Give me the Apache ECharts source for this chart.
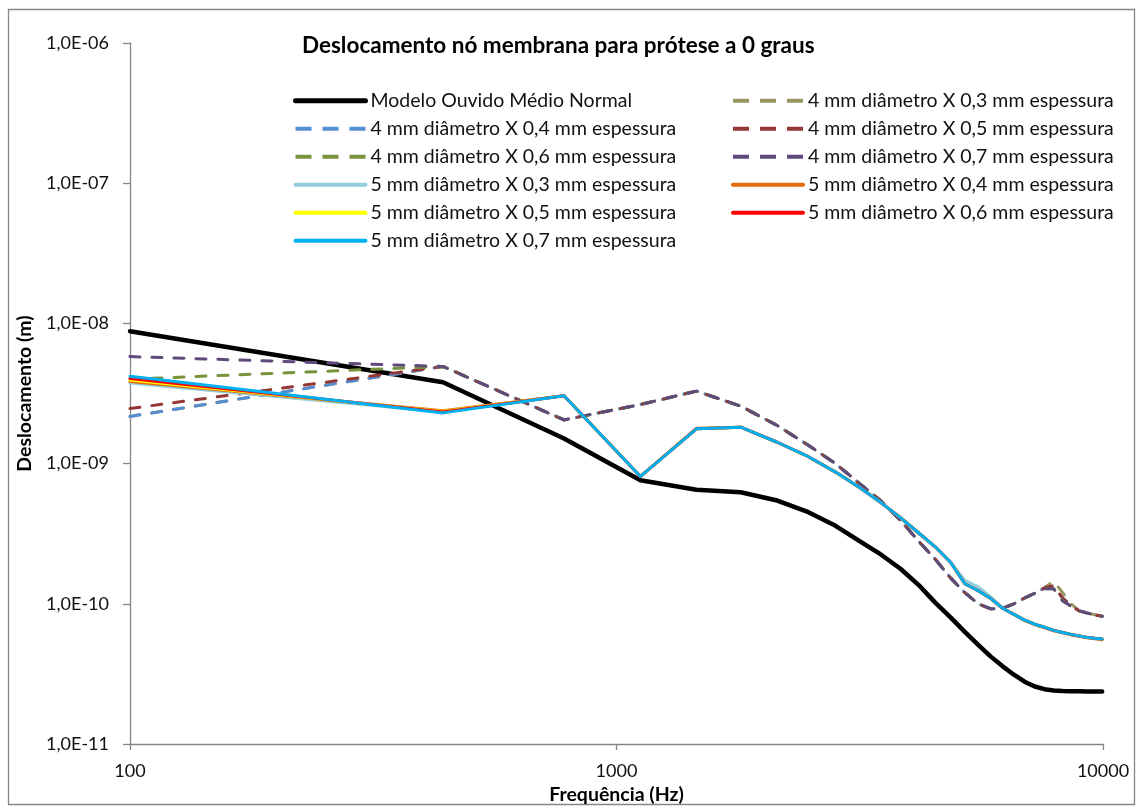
<!DOCTYPE html>
<html>
<head>
<meta charset="utf-8">
<script src="https://cdn.jsdelivr.net/npm/echarts@6/dist/echarts.min.js"></script>
<style>
  html, body { margin: 0; padding: 0; background: #ffffff; }
  #chart { width: 1143px; height: 810px; }
</style>
</head>
<body>
<div id="chart"></div>
<script>
// Frequências simuladas (Hz)
const freqs = [100, 440, 780, 1120, 1460, 1800, 2140, 2480, 2820, 3160,
               3500, 3840, 4180, 4520, 4860, 5200, 5540, 5880, 6220, 6560,
               6900, 7240, 7580, 7920, 8260, 8600, 8940, 9280, 9620, 9960];

// Deslocamento (m) do nó da membrana
const normal = [8.8e-9, 3.8e-9, 1.51e-9, 7.6e-10, 6.5e-10, 6.25e-10, 5.45e-10, 4.5e-10, 3.6e-10, 2.8e-10,
                2.24e-10, 1.77e-10, 1.36e-10, 1.02e-10, 8.0e-11, 6.3e-11, 5.1e-11, 4.2e-11, 3.58e-11, 3.12e-11,
                2.78e-11, 2.57e-11, 2.46e-11, 2.41e-11, 2.39e-11, 2.38e-11, 2.38e-11, 2.37e-11, 2.37e-11, 2.37e-11];

const d4e03 = [2.17e-9, 4.93e-9, 2.05e-9, 2.64e-9, 3.29e-9, 2.57e-9, 1.87e-9, 1.35e-9, 1.0e-9, 7.2e-10,
               5.4e-10, 3.92e-10, 2.79e-10, 2.08e-10, 1.53e-10, 1.2e-10, 1.0e-10, 9.2e-11, 9.3e-11, 1.0e-10,
               1.1e-10, 1.19e-10, 1.3e-10, 1.45e-10, 1.2e-10, 1.0e-10, 8.9e-11, 8.6e-11, 8.35e-11, 8.15e-11];
const d4e04 = [2.17e-9, 4.93e-9, 2.05e-9, 2.64e-9, 3.29e-9, 2.57e-9, 1.87e-9, 1.35e-9, 1.0e-9, 7.2e-10,
               5.4e-10, 3.92e-10, 2.79e-10, 2.08e-10, 1.53e-10, 1.2e-10, 1.0e-10, 9.2e-11, 9.3e-11, 1.0e-10,
               1.1e-10, 1.19e-10, 1.29e-10, 1.32e-10, 1.1e-10, 9.7e-11, 8.9e-11, 8.6e-11, 8.35e-11, 8.15e-11];
const d4e05 = [2.47e-9, 4.93e-9, 2.05e-9, 2.64e-9, 3.29e-9, 2.57e-9, 1.87e-9, 1.35e-9, 1.0e-9, 7.2e-10,
               5.4e-10, 3.92e-10, 2.79e-10, 2.08e-10, 1.53e-10, 1.2e-10, 1.0e-10, 9.2e-11, 9.3e-11, 1.0e-10,
               1.1e-10, 1.19e-10, 1.3e-10, 1.35e-10, 1.1e-10, 9.7e-11, 8.9e-11, 8.6e-11, 8.35e-11, 8.15e-11];
const d4e06 = [4.0e-9, 4.93e-9, 2.05e-9, 2.64e-9, 3.29e-9, 2.57e-9, 1.87e-9, 1.35e-9, 1.0e-9, 7.2e-10,
               5.4e-10, 3.92e-10, 2.79e-10, 2.08e-10, 1.53e-10, 1.2e-10, 1.0e-10, 9.2e-11, 9.3e-11, 1.0e-10,
               1.1e-10, 1.19e-10, 1.28e-10, 1.28e-10, 1.05e-10, 9.6e-11, 8.9e-11, 8.6e-11, 8.35e-11, 8.15e-11];
const d4e07 = [5.8e-9, 4.93e-9, 2.05e-9, 2.64e-9, 3.29e-9, 2.57e-9, 1.87e-9, 1.35e-9, 1.0e-9, 7.2e-10,
               5.4e-10, 3.92e-10, 2.79e-10, 2.08e-10, 1.53e-10, 1.2e-10, 1.0e-10, 9.2e-11, 9.3e-11, 1.0e-10,
               1.1e-10, 1.19e-10, 1.28e-10, 1.28e-10, 1.05e-10, 9.6e-11, 8.9e-11, 8.6e-11, 8.35e-11, 8.15e-11];

const d5e03 = [3.75e-9, 2.33e-9, 3.05e-9, 8.1e-10, 1.77e-9, 1.82e-9, 1.42e-9, 1.12e-9, 8.7e-10, 6.75e-10,
               5.25e-10, 4.1e-10, 3.2e-10, 2.55e-10, 1.98e-10, 1.47e-10, 1.32e-10, 1.12e-10, 9.3e-11, 8.4e-11,
               7.65e-11, 7.15e-11, 6.8e-11, 6.46e-11, 6.24e-11, 6.05e-11, 5.9e-11, 5.76e-11, 5.67e-11, 5.6e-11];
const d5e04 = [3.85e-9, 2.38e-9, 3.05e-9, 8.1e-10, 1.79e-9, 1.82e-9, 1.42e-9, 1.12e-9, 8.7e-10, 6.75e-10,
               5.25e-10, 4.1e-10, 3.2e-10, 2.55e-10, 1.98e-10, 1.39e-10, 1.24e-10, 1.09e-10, 9.3e-11, 8.4e-11,
               7.6e-11, 7.1e-11, 6.75e-11, 6.42e-11, 6.2e-11, 6.0e-11, 5.86e-11, 5.72e-11, 5.63e-11, 5.55e-11];
const d5e05 = [3.95e-9, 2.35e-9, 3.05e-9, 8.1e-10, 1.77e-9, 1.82e-9, 1.42e-9, 1.12e-9, 8.7e-10, 6.75e-10,
               5.25e-10, 4.1e-10, 3.2e-10, 2.55e-10, 1.98e-10, 1.39e-10, 1.24e-10, 1.09e-10, 9.3e-11, 8.4e-11,
               7.65e-11, 7.15e-11, 6.8e-11, 6.46e-11, 6.24e-11, 6.05e-11, 5.9e-11, 5.76e-11, 5.67e-11, 5.6e-11];
const d5e06 = [4.05e-9, 2.33e-9, 3.05e-9, 8.1e-10, 1.77e-9, 1.82e-9, 1.42e-9, 1.12e-9, 8.7e-10, 6.75e-10,
               5.25e-10, 4.1e-10, 3.2e-10, 2.55e-10, 1.98e-10, 1.39e-10, 1.24e-10, 1.09e-10, 9.3e-11, 8.4e-11,
               7.65e-11, 7.15e-11, 6.8e-11, 6.46e-11, 6.24e-11, 6.05e-11, 5.9e-11, 5.76e-11, 5.67e-11, 5.6e-11];
const d5e07 = [4.2e-9, 2.3e-9, 3.05e-9, 8.1e-10, 1.77e-9, 1.82e-9, 1.42e-9, 1.12e-9, 8.7e-10, 6.75e-10,
               5.25e-10, 4.1e-10, 3.2e-10, 2.55e-10, 1.98e-10, 1.39e-10, 1.24e-10, 1.09e-10, 9.3e-11, 8.4e-11,
               7.65e-11, 7.15e-11, 6.8e-11, 6.46e-11, 6.24e-11, 6.05e-11, 5.9e-11, 5.76e-11, 5.67e-11, 5.6e-11];

const seriesNames = [
  'Modelo Ouvido Médio Normal',
  '4 mm diâmetro X 0,3 mm espessura',
  '4 mm diâmetro X 0,4 mm espessura',
  '4 mm diâmetro X 0,5 mm espessura',
  '4 mm diâmetro X 0,6 mm espessura',
  '4 mm diâmetro X 0,7 mm espessura',
  '5 mm diâmetro X 0,3 mm espessura',
  '5 mm diâmetro X 0,4 mm espessura',
  '5 mm diâmetro X 0,5 mm espessura',
  '5 mm diâmetro X 0,6 mm espessura',
  '5 mm diâmetro X 0,7 mm espessura'
];
const seriesValues = [normal, d4e03, d4e04, d4e05, d4e06, d4e07, d5e03, d5e04, d5e05, d5e06, d5e07];

// Aparência de cada curva (no gráfico e na legenda)
const DASH = [10, 12];
const LEGEND_DASH = [16, 11];
const looks = [
  { color: '#000000', width: 4.5, legendWidth: 5, dashed: false },
  { color: '#9A9660', width: 3, legendWidth: 4, dashed: true },
  { color: '#558ED5', width: 3, legendWidth: 4, dashed: true },
  { color: '#953735', width: 3, legendWidth: 4, dashed: true },
  { color: '#77933C', width: 3, legendWidth: 4, dashed: true },
  { color: '#604A7B', width: 3, legendWidth: 4, dashed: true },
  { color: '#93CDDD', width: 3, legendWidth: 4, dashed: false },
  { color: '#E46C0A', width: 3, legendWidth: 4, dashed: false },
  { color: '#FFFF00', width: 3, legendWidth: 4, dashed: false },
  { color: '#FF0000', width: 3, legendWidth: 4, dashed: false },
  { color: '#00B0F0', width: 3, legendWidth: 4, dashed: false }
];

const FONT = 'Lato';
const AXIS_GRAY = '#868686';
const TEXT = '#111111';

function expLabel(v) {
  const e = Math.round(Math.log10(v));
  const abs = Math.abs(e);
  return '1,0E' + (e < 0 ? '-' : '+') + (abs < 10 ? '0' + abs : String(abs));
}
function plainLabel(v) {
  return String(Math.round(v));
}

const series = seriesNames.map((name, i) => ({
  name: name,
  type: 'line',
  symbol: 'none',
  animation: false,
  z: 2 + i,
  lineStyle: {
    color: looks[i].color,
    width: looks[i].width,
    type: looks[i].dashed ? DASH : 'solid',
    cap: 'round',
    join: 'round'
  },
  itemStyle: { color: looks[i].color },
  data: freqs.map((f, k) => [f, seriesValues[i][k]])
}));

function legendItem(i) {
  return {
    name: seriesNames[i],
    lineStyle: {
      color: looks[i].color,
      width: looks[i].legendWidth,
      type: looks[i].dashed ? LEGEND_DASH : 'solid',
      cap: looks[i].dashed ? 'butt' : 'round'
    }
  };
}

const legendBase = {
  orient: 'vertical',
  top: 90.7,
  padding: 0,
  itemWidth: 70,
  itemHeight: 20,
  itemGap: 8,
  selectedMode: false,
  itemStyle: { opacity: 0 },
  textStyle: { fontFamily: FONT, fontSize: 19.5, color: TEXT, lineHeight: 20 }
};

const chart = echarts.init(document.getElementById('chart'), null, { renderer: 'canvas' });
chart.setOption({
  animation: false,
  backgroundColor: '#ffffff',
  title: {
    text: 'Deslocamento nó membrana para prótese a 0 graus',
    left: 302,
    top: 34,
    padding: 0,
    textStyle: { fontFamily: FONT, fontSize: 22.5, fontWeight: 'bold', color: '#000000' }
  },
  legend: [
    Object.assign({}, legendBase, { left: 293, data: [0, 2, 4, 6, 8, 10].map(legendItem) }),
    Object.assign({}, legendBase, { left: 731, data: [1, 3, 5, 7, 9].map(legendItem) })
  ],
  grid: { left: 130, right: 40, top: 43, bottom: 66, containLabel: false, outerBoundsMode: 'none' },
  xAxis: {
    type: 'log',
    logBase: 10,
    min: 100,
    max: 10000,
    name: 'Frequência (Hz)',
    nameLocation: 'middle',
    nameGap: 41,
    nameTextStyle: { fontFamily: FONT, fontSize: 19.5, fontWeight: 'bold', color: '#000000' },
    axisLine: { show: true, lineStyle: { color: AXIS_GRAY, width: 1.3 } },
    axisTick: { show: true, inside: false, length: 6, lineStyle: { color: AXIS_GRAY, width: 1.3 } },
    minorTick: { show: false },
    splitLine: { show: false },
    axisLabel: { margin: 18, fontFamily: FONT, fontSize: 18, color: TEXT, formatter: plainLabel }
  },
  yAxis: {
    type: 'log',
    logBase: 10,
    min: 1e-11,
    max: 1e-6,
    name: 'Deslocamento (m)',
    nameLocation: 'middle',
    nameGap: 85,
    nameRotate: 90,
    nameTextStyle: { fontFamily: FONT, fontSize: 19.5, fontWeight: 'bold', color: '#000000' },
    axisLine: { show: true, lineStyle: { color: AXIS_GRAY, width: 1.3 } },
    axisTick: { show: true, inside: false, length: 7, lineStyle: { color: AXIS_GRAY, width: 1.3 } },
    minorTick: { show: false },
    splitLine: { show: false },
    axisLabel: { margin: 21, fontFamily: FONT, fontSize: 18, color: TEXT, formatter: expLabel }
  },
  graphic: [{
    type: 'rect',
    shape: { x: 8.5, y: 9.5, width: 1126, height: 795 },
    style: { fill: 'none', stroke: AXIS_GRAY, lineWidth: 1.3 },
    silent: true,
    z: -10
  }],
  series: series
});
</script>
</body>
</html>
